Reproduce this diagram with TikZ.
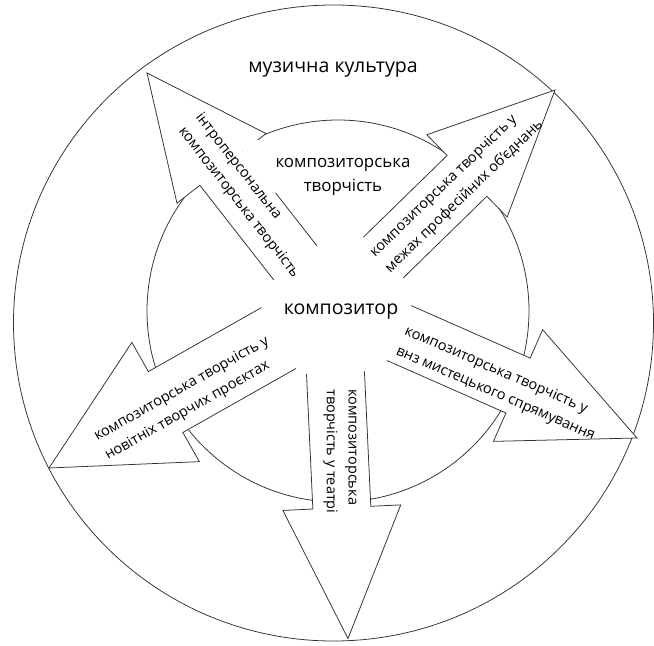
\documentclass[tikz,border=0pt]{standalone}
\usepackage{fontspec}
\setmainfont{Open Sans}
\usetikzlibrary{calc}
\newcommand \mydrawarrow[6]
{
% #1 tip, #2 direction, #3 length, #4 shaft half width, #5 head half width, #6 head length
\begin{scope}[shift={(#1)},rotate=#2]
\fill[white] (-#3,#4)--(-#6,#4)--(-#6,#5)--(0,0)--(-#6,-#5)--(-#6,-#4)--(-#3,-#4)--cycle;
\draw[arrowedge] (-#3,#4)--(-#6,#4)--(-#6,#5)--(0,0)--(-#6,-#5)--(-#6,-#4)--(-#3,-#4);
\end{scope}
}
\begin{document}
\begin{tikzpicture}[x=0.025cm, y=-0.025cm,
  arrowedge/.style={draw=black!80, line width=0.55pt},
  mainlabel/.style={inner sep=0, font=\fontsize{13.9}{17}\selectfont},
  midlabel/.style={inner sep=0, align=center, font=\fontsize{12}{16.5}\selectfont},
  arrowlabel/.style={inner sep=0, anchor=west, align=left, font=\fontsize{10.3}{15.5}\selectfont}]
\useasboundingbox (0,0) rectangle (654,646);
\coordinate (tipintra)   at (147,73);
\coordinate (tipunion)   at (555,90);
\coordinate (tipproject) at (49,468);
\coordinate (tiptheatre) at (348,638.5);
\coordinate (tipschool)  at (637,438);
% circles
\draw[arrowedge] (333.5,323) ellipse [x radius=320, y radius=318];
\draw[arrowedge] (338,311) circle [radius=191];
% arrows
\mydrawarrow{tipintra}{128}{241}{27.5}{56.5}{121}
\mydrawarrow{tipunion}{44.3}{240}{28.5}{57.5}{123}
\mydrawarrow{tipproject}{209.5}{264}{35}{68.5}{134}
\mydrawarrow{tiptheatre}{272.7}{266}{29}{59}{131}
\mydrawarrow{tipschool}{336.2}{260}{30}{61}{130}
% labels
\fill[white] (243,140) rectangle (408,193);
\node[mainlabel] (culture) at (333,70) {музична культура};
\node[midlabel] (creativity) at (343,177) {композиторська\\творчість};
\node[mainlabel] (composer) at (341,312) {композитор};
\node[arrowlabel, rotate=-52] (intra) at (189.5,122) {інтроперсональна\\композиторська творчість};
\node[arrowlabel, rotate=44] (union) at (380,263) {композиторська творчість у\\межах професійних об’єднань};
\node[arrowlabel, rotate=29.5] (project) at (100.8,447.5) {композиторська творчість у\\новітніх творчих проєктах};
\node[arrowlabel, rotate=-90] (theatre) at (340,389) {композиторська\\творчість у театрі};
\node[arrowlabel, rotate=-23.5] (school) at (400.8,340.8) {композиторська творчість у\\внз мистецького спрямування};
\end{tikzpicture}
\end{document}
